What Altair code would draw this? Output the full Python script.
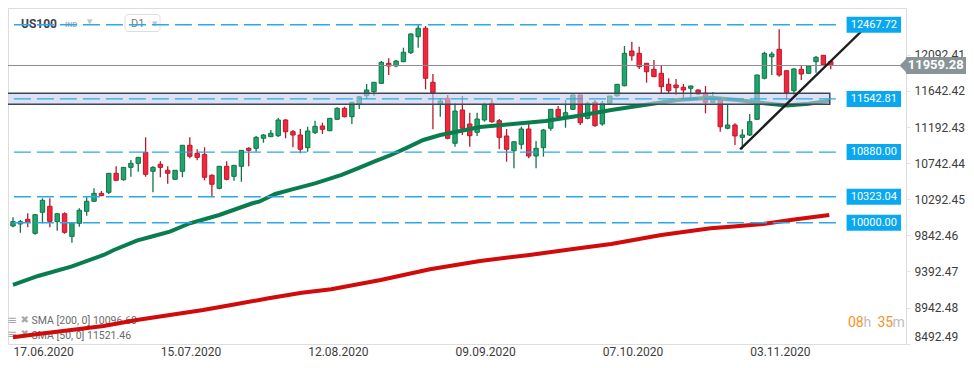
import altair as alt
import pandas as pd

# ---------------- data ----------------
opens = [9959, 9984, 10042, 9868, 10130, 10204, 10012, 10112, 9830, 9993,
         10142, 10267, 10366, 10379, 10616, 10536, 10690, 10740, 10877, 10641,
         10728, 10653, 10541, 10641, 10965, 10865, 10852, 10591, 10429, 10703,
         10578, 10703, 10927, 10927, 11052, 11072, 11084, 11280, 11134, 11093,
         10935, 11122, 11205, 11147, 11289, 11426, 11321, 11479, 11583, 11633,
         11737, 11987, 11953, 12007, 12119, 12318, 12423, 11750, 11479, 11550,
         10990, 11405, 11230, 11127, 11280, 11488, 11271, 11081, 10897, 10977,
         11168, 10831, 10935, 11177, 11413, 11321, 11413, 11592, 11301, 11500,
         11230, 11488, 11583, 11707, 12140, 12111, 11987, 11912, 11862, 11725,
         11716, 11688, 11675, 11654, 11613, 11500, 11538, 11177, 11218, 11064,
         11093, 11289, 11800, 12069, 12161, 11894, 11645, 11912, 11862, 12007,
         12086, 12007]
highs = [10067, 10034, 10117, 10108, 10304, 10304, 10115, 10130, 10002, 10180,
         10317, 10429, 10395, 10620, 10703, 10693, 10781, 10818, 11064, 10703,
         10765, 10703, 10656, 10968, 11064, 10915, 10940, 10603, 10706, 10765,
         10718, 10905, 10940, 11081, 11105, 11155, 11305, 11292, 11155, 11168,
         11196, 11271, 11246, 11305, 11438, 11446, 11508, 11579, 11729, 11752,
         12015, 12049, 12028, 12181, 12360, 12476, 12452, 11853, 11550, 11592,
         11488, 11579, 11371, 11371, 11496, 11550, 11292, 11168, 11010, 11196,
         11239, 11018, 11168, 11416, 11454, 11529, 11595, 11595, 11508, 11529,
         11517, 11580, 11729, 12202, 12256, 12194, 11990, 12028, 11957, 11800,
         11791, 11729, 11708, 11660, 11704, 11625, 11570, 11467, 11239, 11164,
         11355, 11845, 12131, 12131, 12410, 11900, 11924, 11965, 11955, 12078,
         12090, 12028]
lows = [9943, 9875, 9943, 9850, 9993, 9943, 9900, 9863, 9751, 9950,
        10087, 10262, 10330, 10358, 10525, 10523, 10573, 10636, 10573, 10379,
        10566, 10486, 10535, 10566, 10803, 10778, 10528, 10317, 10416, 10528,
        10523, 10511, 10703, 10885, 10997, 11068, 11068, 11052, 10940, 10865,
        10885, 11105, 11105, 11140, 11280, 11313, 11230, 11417, 11542, 11579,
        11729, 11841, 11937, 12000, 12102, 12181, 11663, 11164, 11321, 11040,
        10947, 11093, 10947, 11081, 11259, 11246, 10919, 10760, 10678, 10915,
        10803, 10678, 10823, 11147, 11271, 11184, 11405, 11218, 11289, 11196,
        11209, 11479, 11570, 11700, 12019, 11916, 11745, 11815, 11613, 11604,
        11592, 11529, 11550, 11592, 11363, 11495, 11134, 11164, 10968, 10915,
        11081, 11280, 11787, 11841, 11820, 11529, 11592, 11778, 11853, 11870,
        11962, 11912]
closes = [10013, 10012, 10005, 10100, 10279, 10017, 10112, 9880, 10000, 10155,
          10267, 10366, 10337, 10616, 10528, 10690, 10740, 10815, 10603, 10690,
          10690, 10616, 10653, 10965, 10828, 10815, 10566, 10479, 10703, 10541,
          10715, 10902, 10902, 11064, 11093, 11114, 11280, 11134, 11093, 10915,
          11143, 11201, 11164, 11301, 11426, 11321, 11500, 11570, 11654, 11750,
          11999, 11953, 12015, 12124, 12352, 12423, 11800, 11620, 11517, 11052,
          11392, 11177, 11084, 11292, 11476, 11259, 11064, 10915, 11009, 11168,
          10831, 10927, 11155, 11413, 11321, 11371, 11592, 11246, 11488, 11209,
          11488, 11579, 11725, 12111, 12081, 11944, 11882, 11820, 11695, 11645,
          11683, 11654, 11704, 11604, 11500, 11570, 11196, 11218, 11081, 11093,
          11259, 11841, 12111, 12102, 11841, 11620, 11916, 11853, 11953, 12061,
          11965, 11959.28]

x_tick_idx = [0, 20, 40, 60, 80, 100]
x_tick_labels = ["17.06.2020", "15.07.2020", "12.08.2020", "09.09.2020",
                 "07.10.2020", "03.11.2020"]
y_ticks = [8492.49, 8942.48, 9392.47, 9842.46, 10292.45, 10742.44,
           11192.43, 11642.42, 12092.41]

levels = [12467.72, 11542.81, 10880.00, 10323.04, 10000.00]
level_labels = ["12467.72", "11542.81", "10880.00", "10323.04", "10000.00"]
last_price = 11959.28
band_low, band_high = 11475.7, 11612.7

sma50_idx = [0, 3.4, 7.9, 12.3, 13.7, 16.8, 19.1, 21.3, 24, 28, 32.5, 33.4,
             35.6, 37.9, 41, 44.6, 46.8, 49, 51.3, 53.5, 55.7, 58, 60.2, 63.4,
             67.8, 72.3, 76.8, 81.2, 85.7, 90.2, 94.7, 98.3, 102, 105, 108, 110.9]
sma50_val = [9224, 9336, 9452, 9598, 9660, 9776, 9834, 9888, 9993, 10096,
             10242, 10262, 10358, 10416, 10491, 10595, 10678, 10760, 10844,
             10935, 11031, 11093, 11134, 11193, 11230, 11268, 11334, 11405,
             11467, 11529, 11558, 11530, 11490, 11460, 11482, 11521.46]
sma200_idx = [0, 3.4, 7.9, 12.3, 16.8, 21.3, 25.8, 30.2, 34.7, 39.2, 43.2,
              49.9, 56.6, 63.4, 70.1, 76.8, 81.2, 88, 94.7, 97.4, 101.8, 106.3,
              110.8]
sma200_val = [8572, 8613, 8663, 8713, 8788, 8850, 8912, 8983, 9058, 9128, 9170,
              9286, 9419, 9523, 9598, 9681, 9735, 9847, 9930, 9950, 9984,
              10042, 10096]

trend_idx = [98.7, 115.9]
trend_val = [10914.7, 12451.5]

sma_legend = ["SMA  [200,  0]  10096.60", "SMA  [50,  0]  11521.46"]

# ---------------- layout ----------------
W, H = 898, 336
PX = 7.45                      # pixels per candle
UPP = 12.463                   # price units per pixel
XDOM = [0, W / PX]
YDOM = [8488.41, 12675.85]
FONT = "Roboto"

xs = alt.Scale(domain=XDOM, nice=False, zero=False)
ys = alt.Scale(domain=YDOM, nice=False, zero=False)

label_js = "[" + ",".join("'%s'" % s for s in x_tick_labels) + "]"
XA = alt.Axis(values=x_tick_idx, labelExpr=label_js + "[round(datum.value/20)]",
              title=None, grid=False, domain=False, ticks=False,
              labelAlign="left", labelFlush=False, labelPadding=2,
              labelFontSize=12, labelColor="#3c3c3c", labelFont=FONT)
YA = alt.Axis(orient="right", values=y_ticks, format=".2f", title=None,
              grid=False, domain=False, tickSize=4, tickColor="#e3e3e3",
              labelPadding=4, labelFontSize=12, labelColor="#3c3c3c",
              labelFont=FONT, labelFlush=True)


def X(f):
    return alt.X(f, type="quantitative", scale=xs, axis=XA)


def Y(f):
    return alt.Y(f, type="quantitative", scale=ys, axis=YA)


candles = pd.DataFrame({"i": list(range(len(opens))), "open": opens,
                        "high": highs, "low": lows, "close": closes})
candles["dir"] = ["up" if c >= o else "down" for o, c in zip(opens, closes)]

dir_stroke = alt.Scale(domain=["up", "down"], range=["#11734a", "#b8192c"])
dir_fill = alt.Scale(domain=["up", "down"], range=["#20a66c", "#f4263c"])

wicks = alt.Chart(candles).mark_rule(strokeWidth=1.3).encode(
    x=X("i"), y=Y("low"), y2="high",
    color=alt.Color("dir:N", scale=dir_stroke, legend=None))
bodies = alt.Chart(candles).mark_bar(size=4.4, strokeWidth=1).encode(
    x=X("i"), y=Y("open"), y2="close",
    fill=alt.Fill("dir:N", scale=dir_fill, legend=None),
    stroke=alt.Stroke("dir:N", scale=dir_stroke, legend=None))

sma50 = pd.DataFrame({"i": sma50_idx, "v": sma50_val})
sma200 = pd.DataFrame({"i": sma200_idx, "v": sma200_val})
sma50_line = alt.Chart(sma50).mark_line(color="#0a7d4e", strokeWidth=4).encode(
    x=X("i"), y=Y("v"))
sma200_line = alt.Chart(sma200).mark_line(color="#d10a0a", strokeWidth=4).encode(
    x=X("i"), y=Y("v"))

band = alt.Chart(pd.DataFrame({"x0": [-3], "x1": [110.87],
                               "lo": [band_low], "hi": [band_high]})).mark_rect(
    fill="#c8cdeb", fillOpacity=0.6, stroke="#3b4859", strokeWidth=1.5).encode(
    x=X("x0"), x2="x1", y=Y("lo"), y2="hi")

lv = pd.DataFrame({"v": levels, "label": level_labels})
lv["x0"] = -3
lv["x1"] = 112.5
lv["bx0"] = 113.15
lv["bx1"] = 120.54
lv["bxc"] = 116.85
lv["lo"] = lv["v"] - 8 * UPP
lv["hi"] = lv["v"] + 8 * UPP

dashed = alt.Chart(lv).mark_rule(color="#2aa9e6", strokeWidth=1.4,
                                 strokeDash=[17, 6]).encode(
    x=X("x0"), x2="x1", y=Y("v"))
boxes = alt.Chart(lv).mark_rect(fill="#0aa8f0").encode(
    x=X("bx0"), x2="bx1", y=Y("lo"), y2="hi")
box_text = alt.Chart(lv).mark_text(color="white", fontSize=11, font=FONT).encode(
    x=X("bxc"), y=Y("v"), text="label:N")

pr = pd.DataFrame({"v": [last_price], "label": ["%.2f" % last_price],
                   "x0": [-3], "x1": [120.4], "tip": [120.34],
                   "bx0": [121.2], "bx1": [129.5], "bxc": [125.25]})
pr["lo"] = pr["v"] - 8.5 * UPP
pr["hi"] = pr["v"] + 8.5 * UPP
price_line = alt.Chart(pr).mark_rule(color="#8d8d8d", strokeWidth=1).encode(
    x=X("x0"), x2="x1", y=Y("v"))
price_box = alt.Chart(pr).mark_rect(fill="#8a9498").encode(
    x=X("bx0"), x2="bx1", y=Y("lo"), y2="hi")
price_tip = alt.Chart(pr).mark_point(shape="M0,0L1,-1L1,1Z", size=300, filled=True,
                                     fill="#8a9498", opacity=1, strokeWidth=0).encode(
    x=X("tip"), y=Y("v"))
price_text = alt.Chart(pr).mark_text(color="white", fontSize=13, fontWeight="bold",
                                     font=FONT).encode(
    x=X("bxc"), y=Y("v"), text="label:N")

trend = alt.Chart(pd.DataFrame({"i": trend_idx, "v": trend_val})).mark_line(
    color="#1d1d1d", strokeWidth=2.4).encode(x=X("i"), y=Y("v"))

one = pd.DataFrame({"a": [0]})


def txt(s, x, y, **kw):
    return alt.Chart(one).mark_text(align="left", baseline="middle", **kw).encode(
        x=alt.value(x), y=alt.value(y), text=alt.value(s))


chrome = [
    alt.Chart(one).mark_rect(fill="white", stroke="#dedede", cornerRadius=3).encode(
        x=alt.value(117), x2=alt.value(152), y=alt.value(6.5), y2=alt.value(23.5)),
    txt("US100", 13, 15.5, fontSize=12, fontWeight="bold", color="#3d424c", font=FONT),
    txt("IND", 57, 16.5, fontSize=7.5, fontWeight="bold", color="#a8aeb5", font=FONT),
    txt("▼", 79, 13.5, fontSize=7, color="#c4c4c4", font="DejaVu Sans"),
    txt("D1", 123, 15.5, fontSize=11, color="#7a7a7a", font=FONT),
    txt("▼", 144, 15.5, fontSize=7, color="#c4c4c4", font="DejaVu Sans"),
    txt("≡", -1, 312, fontSize=12, color="#a7a7a7", font="DejaVu Sans"),
    txt("✖", 12.5, 312, fontSize=10, color="#a7a7a7", font="DejaVu Sans"),
    txt(sma_legend[0], 23.5, 313, fontSize=10.5, color="#6b6b6b", font=FONT),
    txt("≡", -1, 326, fontSize=12, color="#a7a7a7", font="DejaVu Sans"),
    txt("✖", 12.5, 326, fontSize=10, color="#a7a7a7", font="DejaVu Sans"),
    txt(sma_legend[1], 23.5, 327.5, fontSize=10.5, color="#6b6b6b", font=FONT),
    txt("08", 840, 315, fontSize=14, color="#f7931e", font=FONT),
    txt("h", 855.5, 315, fontSize=14, color="#bdbdbd", font=FONT),
    txt("35", 869.5, 315, fontSize=14, color="#f7931e", font=FONT),
    txt("m", 884.5, 315, fontSize=14, color="#bdbdbd", font=FONT),
]

chart = alt.layer(
    wicks, bodies, *chrome, sma200_line, sma50_line, band, dashed, price_line,
    trend, boxes, box_text, price_box, price_tip, price_text
).properties(
    width=W, height=H,
    autosize=alt.AutoSizeParams(type="none"),
    padding={"left": 0, "top": 0, "right": 60, "bottom": 18},
).configure_view(stroke=None).configure(background="white")

chart.save("out.html", embed_options={"renderer": "svg", "actions": False})
